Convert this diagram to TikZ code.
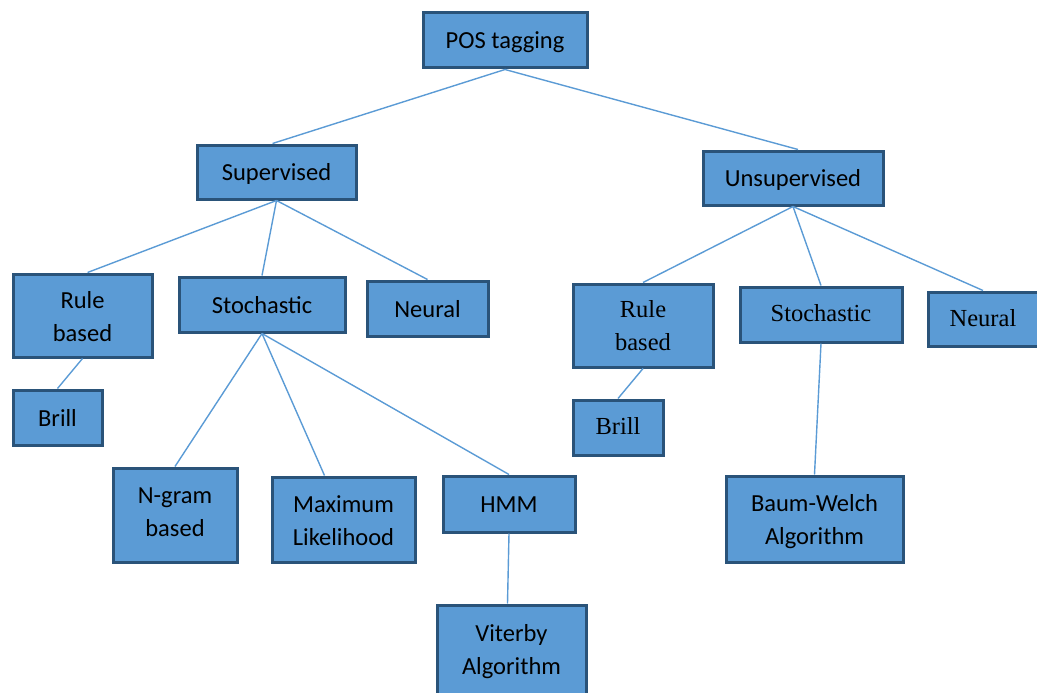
\documentclass[tikz,border=0pt]{standalone}
\usepackage{fontspec}
\setmainfont{Carlito}
\newfontfamily\timesfont{Liberation Serif}
\definecolor{boxfill}{HTML}{5B9BD5}
\definecolor{boxline}{HTML}{2A5379}
\definecolor{edgeline}{HTML}{5B9BD5}
\tikzset{
  box/.style={draw=boxline,fill=boxfill,line width=3pt,align=center,inner sep=0pt,
    text height=19pt,text depth=2pt,font=\fontsize{24.5}{33}\selectfont},
  tbox/.style={box,text depth=5pt,font=\fontsize{24.5}{33}\selectfont\timesfont},
  twoline/.style={text height=51pt,text depth=0pt},
  tallbox/.style={text height=51pt,text depth=8pt},
  edge/.style={draw=edgeline,line width=1.4pt}
}
\begin{document}
\begin{tikzpicture}[x=1pt,y=-1pt]
\useasboundingbox (0,0) rectangle (1037,693);
\clip (0,0) rectangle (1037,693);
\node[box,minimum width=164pt,minimum height=55pt] at (505,40.5) (pos){POS tagging};
\node[box,minimum width=159pt,minimum height=54pt] at (276.5,172) (sup){Supervised};
\node[box,minimum width=180pt,minimum height=54pt] at (793,178) (uns){Unsupervised};
\node[box,twoline,minimum width=139pt,minimum height=83pt] at (82.5,315.5) (ruleL){Rule\\based};
\node[box,minimum width=166pt,minimum height=55pt] at (262,304.5) (stochL){Stochastic};
\node[box,minimum width=121pt,minimum height=55pt] at (427.5,308.5) (neuralL){Neural};
\node[box,minimum width=89pt,minimum height=55pt] at (57.5,417.5) (brillL){Brill};
\node[box,tallbox,minimum width=124pt,minimum height=94pt] at (175,515) (ngram){N-gram\\based};
\node[box,twoline,minimum width=143pt,minimum height=85pt] at (343.5,519.5) (maxlik){Maximum\\Likelihood};
\node[box,minimum width=132pt,minimum height=56pt] at (509,504) (hmm){HMM};
\node[box,tallbox,minimum width=149pt,minimum height=95pt] at (511.5,652.5) (viterbi){Viterby\\Algorithm};
\node[tbox,text height=51pt,text depth=2pt,minimum width=140pt,minimum height=83pt] at (643,325.5) (ruleR){Rule\\based};
\node[tbox,minimum width=90pt,minimum height=55pt] at (618,427.5) (brillR){Brill};
\node[tbox,minimum width=162pt,minimum height=55pt] at (821,314.5) (stochR){Stochastic};
\node[tbox,minimum width=110pt,minimum height=54pt] at (983,319) (neuralR){Neural};
\node[box,twoline,minimum width=177pt,minimum height=86pt] at (814.5,519) (baum){Baum-Welch\\Algorithm};
\draw[edge] (pos.south) -- ([xshift=-4pt]sup.north);
\draw[edge] (pos.south) -- ([xshift=5pt]uns.north);
\draw[edge] (sup.south) -- ([xshift=5pt]ruleL.north);
\draw[edge] (sup.south) -- (stochL.north);
\draw[edge] (sup.south) -- (neuralL.north);
\draw[edge] (ruleL.south) -- (brillL.north);
\draw[edge] (stochL.south) -- (ngram.north);
\draw[edge] (stochL.south) -- ([xshift=-19pt]maxlik.north);
\draw[edge] (stochL.south) -- (hmm.north);
\draw[edge] (hmm.south) -- ([xshift=-4pt]viterbi.north);
\draw[edge] (uns.south) -- (ruleR.north);
\draw[edge] (uns.south) -- (stochR.north);
\draw[edge] (uns.south) -- (neuralR.north);
\draw[edge] (ruleR.south) -- (brillR.north);
\draw[edge] (stochR.south) -- (baum.north);
\end{tikzpicture}
\end{document}
